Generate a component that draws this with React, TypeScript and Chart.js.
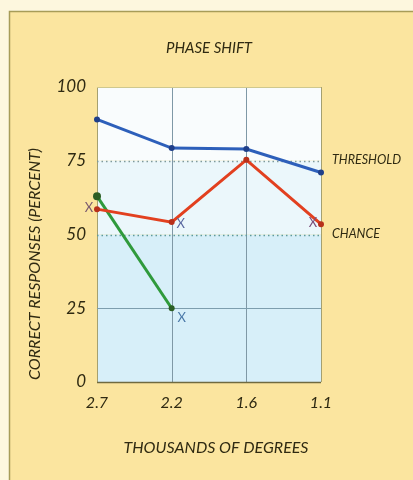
import React, { useEffect, useRef } from "react";
import { Chart, registerables } from "chart.js";

Chart.register(...registerables);

const categories = ["2.7", "2.2", "1.6", "1.1"];
const blueValues = [89, 79.3, 79, 71];
const redValues = [58.6, 54.2, 75.3, 53.5];
const greenValues = [63, 25, null, null];
const yTicks = [0, 25, 50, 75, 100];
const chartTitle = "PHASE SHIFT";
const xTitle = "THOUSANDS OF DEGREES";
const yTitle = "CORRECT RESPONSES (PERCENT)";
const refLabels = [
  { value: 75, text: "THRESHOLD" },
  { value: 50, text: "CHANCE" },
];

const FONT = "Lato, 'DejaVu Sans', sans-serif";
const TEXT = "#2f2a12";

const decorPlugin = {
  id: "decor",
  beforeDraw(chart: any) {
    const { ctx, width, height, chartArea } = chart;
    const y = chart.scales.y;
    const x = chart.scales.x;
    ctx.save();
    ctx.fillStyle = "#fdf7de";
    ctx.fillRect(0, 0, width, height);
    ctx.fillStyle = "#fbe59f";
    ctx.fillRect(9, 11, width - 9, height - 11);
    ctx.strokeStyle = "#a79c58";
    ctx.lineWidth = 1.5;
    ctx.beginPath();
    ctx.moveTo(9.5, height);
    ctx.lineTo(9.5, 11.5);
    ctx.lineTo(width, 11.5);
    ctx.stroke();

    const { left, right } = chartArea;
    const band = (from: number, to: number, color: string) => {
      const a = y.getPixelForValue(from);
      const b = y.getPixelForValue(to);
      ctx.fillStyle = color;
      ctx.fillRect(left, b, right - left, a - b);
    };
    band(75, 100, "#f9fcfd");
    band(50, 75, "#ebf7fb");
    band(0, 50, "#d7eff9");

    categories.forEach((_, i) => {
      const px = Math.round(x.getPixelForValue(i)) + 0.5;
      ctx.beginPath();
      ctx.lineWidth = 1;
      ctx.strokeStyle = i === 0 || i === categories.length - 1 ? "#a5a070" : "#7f98a6";
      ctx.moveTo(px, chartArea.top);
      ctx.lineTo(px, chartArea.bottom);
      ctx.stroke();
    });
    const hline = (v: number, color: string, dash: number[], w: number) => {
      const py = Math.round(y.getPixelForValue(v)) + 0.5;
      ctx.beginPath();
      ctx.setLineDash(dash);
      ctx.lineWidth = w;
      ctx.strokeStyle = color;
      ctx.moveTo(left, py);
      ctx.lineTo(right, py);
      ctx.stroke();
      ctx.setLineDash([]);
    };
    hline(100, "#cfc88e", [], 1);
    hline(75, "#7f9a9a", [1.5, 3], 1.5);
    hline(50, "#5f9a9a", [1.5, 3], 1.5);
    hline(25, "#7d9eae", [], 1);
    hline(0, "#6f6a40", [], 1.5);

    // titles
    ctx.fillStyle = TEXT;
    ctx.textAlign = "center";
    ctx.textBaseline = "middle";
    ctx.font = `italic 15px ${FONT}`;
    ctx.fillText(chartTitle, (left + right) / 2, 48);
    ctx.font = `italic 16px ${FONT}`;
    ctx.fillText(xTitle, (left + right) / 2 + 7, 448);
    ctx.save();
    ctx.translate(35, 264);
    ctx.rotate(-Math.PI / 2);
    ctx.font = `italic 16px ${FONT}`;
    ctx.fillText(yTitle, 0, 0);
    ctx.restore();
    ctx.restore();
  },
  afterDatasetsDraw(chart: any) {
    const { ctx, chartArea } = chart;
    const y = chart.scales.y;
    ctx.save();
    ctx.font = `italic 12.5px ${FONT}`;
    ctx.fillStyle = TEXT;
    ctx.textBaseline = "middle";
    ctx.textAlign = "left";
    refLabels.forEach((r) => {
      ctx.fillText(r.text, chartArea.right + 11, y.getPixelForValue(r.value) - 1);
    });
    const marks = [
      { ds: 1, i: 0, dx: -8, dy: -1, color: "#7a5a6e" },
      { ds: 1, i: 1, dx: 9, dy: 2, color: "#5a68a0" },
      { ds: 1, i: 3, dx: -8, dy: -1, color: "#7a4e7a" },
      { ds: 2, i: 1, dx: 10, dy: 10, color: "#4a78a8" },
    ];
    ctx.font = `13px ${FONT}`;
    ctx.textAlign = "center";
    marks.forEach((m) => {
      const el = chart.getDatasetMeta(m.ds).data[m.i];
      ctx.fillStyle = m.color;
      ctx.fillText("X", el.x + m.dx, el.y + m.dy);
    });
    ctx.restore();
  },
};

export default function App() {
  const ref = useRef<HTMLCanvasElement>(null);
  useEffect(() => {
    if (!ref.current) return;
    const chart = new Chart(ref.current, {
      type: "line",
      data: {
        labels: categories,
        datasets: [
          {
            data: blueValues,
            borderColor: "#2d5fba",
            backgroundColor: "#1f3f8a",
            borderWidth: 3,
            pointRadius: 3,
            pointBorderWidth: 0,
            tension: 0,
          },
          {
            data: redValues,
            borderColor: "#e2401f",
            backgroundColor: "#b8301a",
            borderWidth: 3,
            pointRadius: 3,
            pointBorderWidth: 0,
            tension: 0,
          },
          {
            data: greenValues,
            borderColor: "#2f9a3c",
            backgroundColor: "#2c5e24",
            borderWidth: 3,
            pointRadius: [4, 3, 0, 0],
            pointBorderWidth: 0,
            tension: 0,
            spanGaps: false,
          },
        ],
      },
      options: {
        responsive: false,
        animation: false,
        layout: { padding: { left: 0, right: 92, top: 87, bottom: 0 } },
        plugins: {
          legend: { display: false },
          tooltip: { enabled: false },
          title: { display: false },
        },
        scales: {
          x: {
            type: "category",
            offset: false,
            grid: { display: false, drawTicks: false },
            border: { display: false },
            ticks: {
              color: TEXT,
              padding: 11,
              font: { family: FONT, size: 16, style: "italic" },
              maxRotation: 0,
            },
            afterFit: (s: any) => {
              s.height = 98;
            },
          },
          y: {
            min: 0,
            max: 100,
            grid: { display: false, drawTicks: false },
            border: { display: false },
            afterBuildTicks: (s: any) => {
              s.ticks = yTicks.map((v) => ({ value: v }));
            },
            ticks: {
              color: TEXT,
              padding: 11,
              font: { family: FONT, size: 17, style: "italic" },
            },
            afterFit: (s: any) => {
              s.width = 97;
            },
          },
        },
      },
      plugins: [decorPlugin],
    });
    return () => chart.destroy();
  }, []);
  return (
    <div style={{ position: "fixed", left: 0, top: 0, width: 413, height: 480 }}>
      <canvas ref={ref} width={413} height={480} style={{ display: "block" }} />
    </div>
  );
}
